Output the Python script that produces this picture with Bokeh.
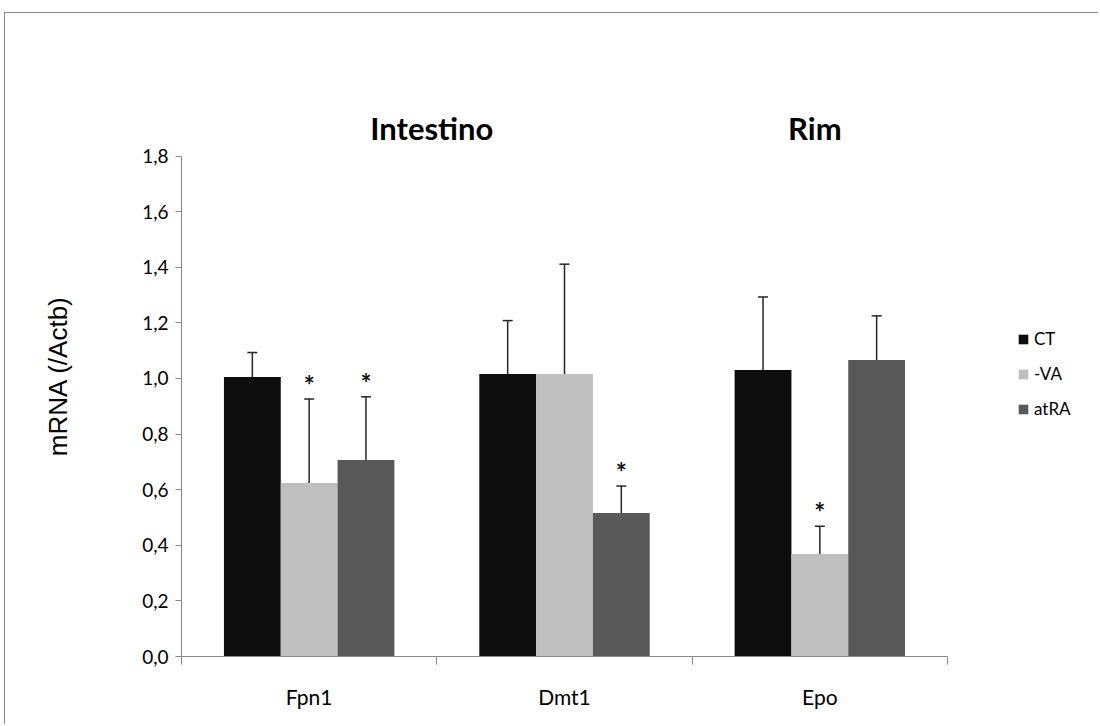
from bokeh.plotting import figure
from bokeh.models import (ColumnDataSource, Range1d, FixedTicker, CustomJSTickFormatter,
                          Whisker, TeeHead, Legend, LegendItem, Label)
from bokeh.core.properties import value
from bokeh.embed import file_html
from bokeh.resources import INLINE

# ---------------- data ----------------
genes = ["Fpn1", "Dmt1", "Epo"]
treatments = ["CT", "-VA", "atRA"]
ct_vals = [1.005, 1.016, 1.030]
va_vals = [0.624, 1.016, 0.369]
atra_vals = [0.707, 0.516, 1.066]
ct_err = [0.088, 0.192, 0.263]
va_err = [0.302, 0.395, 0.099]
atra_err = [0.227, 0.097, 0.159]
ct_sig = [False, False, False]
va_sig = [True, False, True]
atra_sig = [True, True, False]
y_ticks = [0.0, 0.2, 0.4, 0.6, 0.8, 1.0, 1.2, 1.4, 1.6, 1.8]
group_titles = ["Intestino", "Rim"]
group_members = [["Fpn1", "Dmt1"], ["Epo"]]
y_label = "mRNA (/Actb)"

colors = ["#0d0d0d", "#bfbfbf", "#595959"]
BAR_W = 0.2225
FONT = "Lato"

# ---------------- layout ----------------
W, H = 1094, 712
LEFT, BOTTOM, TOP = 176, 69, 82
PX_X = 766 / 3.0        # pixels per category
PX_Y = 500.5 / 1.8      # pixels per unit
frame_w = W - LEFT
frame_h = H - BOTTOM - TOP
x_end = frame_w / PX_X
y_end = frame_h / PX_Y

p = figure(width=W, height=H, output_backend="svg", toolbar_location=None,
           x_range=Range1d(0, x_end), y_range=Range1d(0, y_end))
p.min_border_left = LEFT
p.min_border_right = 0
p.min_border_top = TOP
p.min_border_bottom = BOTTOM
p.outline_line_color = None
p.xgrid.grid_line_color = None
p.ygrid.grid_line_color = None
p.background_fill_color = "white"
p.border_fill_color = "white"
p.styles = {"margin-left": "4px", "margin-top": "12px",
            "border-left": "1px solid #8a8a8a", "border-top": "1px solid #8a8a8a"}

series = [(ct_vals, ct_err, ct_sig), (va_vals, va_err, va_sig), (atra_vals, atra_err, atra_sig)]
items = []
for j, (vals, errs, sigs) in enumerate(series):
    xs = [i + 0.5 + (j - 1) * BAR_W for i in range(len(genes))]
    src = ColumnDataSource(dict(x=xs, top=vals, up=[v + e for v, e in zip(vals, errs)]))
    r = p.vbar(x="x", top="top", width=BAR_W, source=src, fill_color=colors[j], line_color=None)
    items.append(LegendItem(label=treatments[j], renderers=[r]))
    w = Whisker(base="x", lower="top", upper="up", source=src, dimension="height",
                line_color="#262626", line_width=1.5, lower_head=None,
                upper_head=TeeHead(size=10, line_color="#262626", line_width=1.5))
    p.add_layout(w)
    sx = [x for x, s in zip(xs, sigs) if s]
    sy = [v + e for v, e, s in zip(vals, errs, sigs) if s]
    if sx:
        p.text(x=sx, y=sy, text=["*"] * len(sx), text_align="center", text_baseline="middle",
               y_offset=-14, text_font=value(FONT), text_font_style="bold",
               text_font_size="26px", text_color="#111111")

# group titles
for title, members in zip(group_titles, group_members):
    cx = sum(genes.index(m) + 0.5 for m in members) / len(members)
    p.add_layout(Label(x=cx, y=1.8, text=title, text_align="center", text_baseline="alphabetic",
                       x_offset=-5, y_offset=28, text_font=FONT, text_font_style="bold",
                       text_font_size="31px", text_color="#000000"))

# y axis
ya = p.yaxis[0]
ya.bounds = (0, 1.8)
ya.ticker = FixedTicker(ticks=y_ticks)
ya.formatter = CustomJSTickFormatter(code="return tick.toFixed(1).replace('.', ',');")
ya.axis_line_color = "#868686"
ya.major_tick_line_color = "#868686"
ya.major_tick_in = 0
ya.major_tick_out = 6
ya.minor_tick_line_color = None
ya.major_label_standoff = 7
ya.major_label_text_font = FONT
ya.major_label_text_font_size = "19px"
ya.major_label_text_color = "#000000"
ya.axis_label = y_label
ya.axis_label_text_font = "Liberation Sans"
ya.axis_label_text_font_style = "normal"
ya.axis_label_text_font_size = "26px"
ya.axis_label_text_color = "#000000"
ya.axis_label_standoff = 66

# x axis
xa = p.xaxis[0]
xa.bounds = (0, len(genes))
xa.ticker = FixedTicker(ticks=[i + 0.5 for i in range(len(genes))],
                        minor_ticks=list(range(len(genes) + 1)))
xa.formatter = CustomJSTickFormatter(args=dict(names=genes), code="return names[Math.floor(tick)];")
xa.axis_line_color = "#868686"
xa.major_tick_line_color = None
xa.major_tick_in = 0
xa.major_tick_out = 0
xa.minor_tick_line_color = "#868686"
xa.minor_tick_in = 0
xa.minor_tick_out = 8
xa.major_label_standoff = 19
xa.major_label_text_font = FONT
xa.major_label_text_font_size = "21px"
xa.major_label_text_color = "#000000"

legend = Legend(items=items, location=(836, 237), orientation="vertical",
                glyph_width=12, glyph_height=12, label_height=20, spacing=14,
                label_standoff=5, padding=0, margin=0, border_line_color=None,
                background_fill_alpha=0, label_text_font=FONT, label_text_font_size="17px",
                label_text_color="#000000")
p.add_layout(legend, "center")

open("out.html", "w").write(file_html(p, INLINE))
